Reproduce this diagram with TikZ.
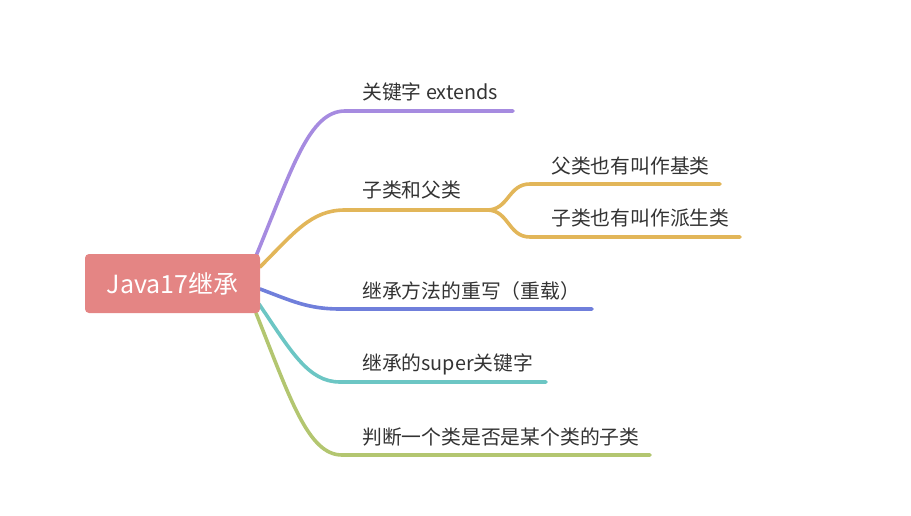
\documentclass[tikz,border=0pt]{standalone}
\usepackage{fontspec}
\setmainfont{Noto Sans CJK SC}
\definecolor{rootc}{HTML}{E48584}
\definecolor{cpurple}{HTML}{A68BE0}
\definecolor{cgold}{HTML}{E2B659}
\definecolor{cblue}{HTML}{707FDB}
\definecolor{cteal}{HTML}{6CC6C4}
\definecolor{cgreen}{HTML}{B3C670}
\definecolor{textgray}{HTML}{333333}
\begin{document}
\begin{tikzpicture}[x=1pt,y=-1pt,
  branch/.style={line width=3.6pt, line cap=round},
  lbl/.style={anchor=west, inner sep=0pt, text=textgray, font=\fontsize{19.8}{20}\selectfont},
  rootbox/.style={fill=rootc, rounded corners=4pt, minimum width=175pt, minimum height=59pt, inner sep=0pt, text=white, font=\fontsize{25}{27}\selectfont}]
\useasboundingbox (0,0) rectangle (911,516);
% coordinates
\coordinate (s1) at (256,256); \coordinate (e1) at (345,111); \coordinate (t1) at (513,111);
\coordinate (s2) at (260,267); \coordinate (e2) at (345,210); \coordinate (g) at (487,210);
\coordinate (e21) at (530,184); \coordinate (t21) at (720,184);
\coordinate (e22) at (530,237); \coordinate (t22) at (740,237);
\coordinate (s3) at (260,289); \coordinate (e3) at (340,309); \coordinate (t3) at (592,309);
\coordinate (s4) at (259,304); \coordinate (e4) at (340,382); \coordinate (t4) at (546,382);
\coordinate (s5) at (256,313); \coordinate (e5) at (342,455); \coordinate (t5) at (650,455);
% branches
\draw[branch, cpurple] (s1) .. controls +(36,-87) and +(-36,0) .. (e1) -- (t1);
\draw[branch, cgold] (s2) .. controls +(34,-34) and +(-34,0) .. (e2) -- (g);
\draw[branch, cgold] (g) .. controls +(22,0) and +(-22,0) .. (e21) -- (t21);
\draw[branch, cgold] (g) .. controls +(22,0) and +(-22,0) .. (e22) -- (t22);
\draw[branch, cblue] (s3) .. controls +(32,12) and +(-32,0) .. (e3) -- (t3);
\draw[branch, cteal] (s4) .. controls +(32,47) and +(-32,0) .. (e4) -- (t4);
\draw[branch, cgreen] (s5) .. controls +(34,85) and +(-34,0) .. (e5) -- (t5);
% root
\node[rootbox] (root) at (172.5,283.5) {Java17继承};
% labels
\node[lbl] (n1) at (362,92) {关键字 extends};
\node[lbl] (n2) at (362,190) {子类和父类};
\node[lbl] (n21) at (551,166) {父类也有叫作基类};
\node[lbl] (n22) at (551,218) {子类也有叫作派生类};
\node[lbl] (n3) at (362,291) {继承方法的重写（重载）};
\node[lbl] (n4) at (362,364) {继承的super关键字};
\node[lbl] (n5) at (362,437) {判断一个类是否是某个类的子类};
\end{tikzpicture}
\end{document}
